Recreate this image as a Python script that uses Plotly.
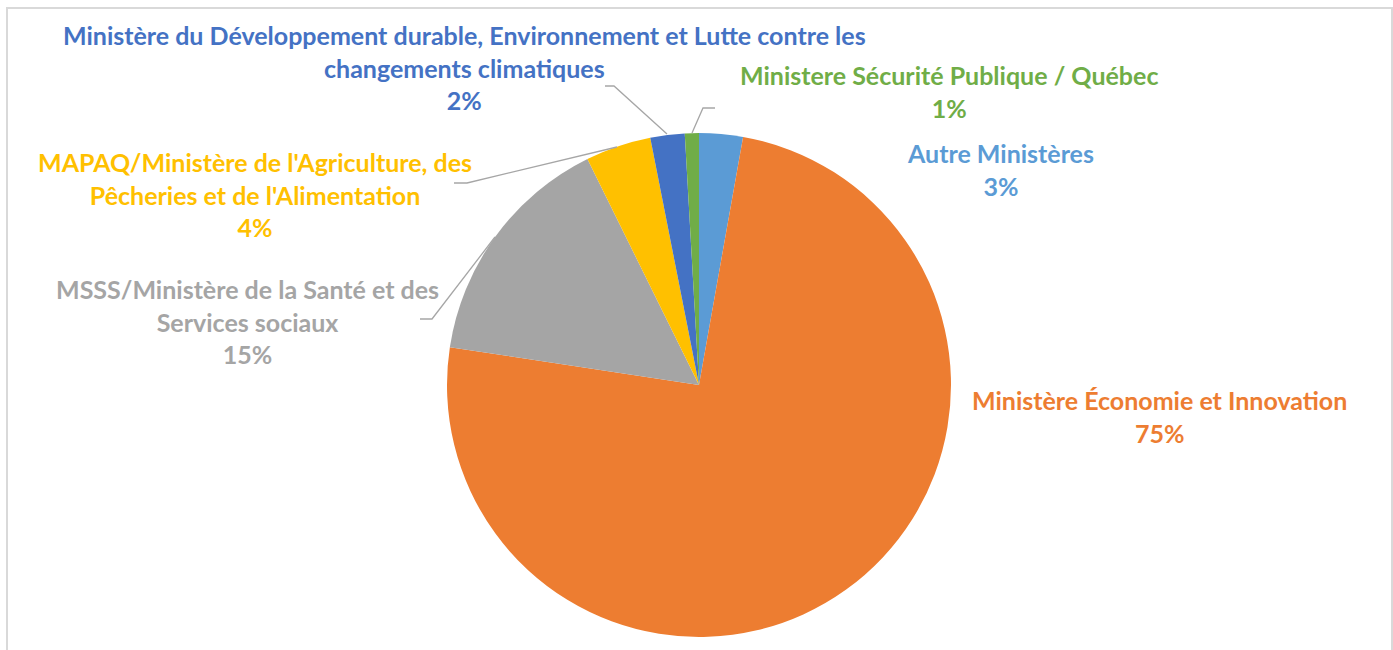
import plotly.graph_objects as go

# Slices in clockwise order starting at 12 o'clock
labels = [
    "Autre Ministères",
    "Ministère Économie et Innovation",
    "MSSS/Ministère de la Santé et des<br>Services sociaux",
    "MAPAQ/Ministère de l'Agriculture, des<br>Pêcheries et de l'Alimentation",
    "Ministère du Développement durable, Environnement et Lutte contre les<br>changements climatiques",
    "Ministere Sécurité Publique / Québec",
]
values = [2.8, 74.6, 15.3, 4.2, 2.2, 0.9]
colors = ["#5B9BD5", "#ED7D31", "#A5A5A5", "#FFC000", "#4472C4", "#70AD47"]

# label placement (pixels, centre of the text block) and leader lines
label_pos = [(1000, 170), (1159, 416), (247, 322), (255, 194), (464, 67), (949, 91)]
leaders = [
    None,
    None,
    [(420, 319), (432, 319), (495, 237)],
    [(454, 183), (467, 183), (617, 147)],
    [(605, 86), (614, 86), (667, 134)],
    [(715, 108), (703, 108), (692, 133)],
]

W, H = 1393, 650
FONT = "Lato"


def px(x, y):
    return x / W, 1 - y / H


fig = go.Figure(go.Pie(
    labels=labels,
    values=values,
    sort=False,
    direction="clockwise",
    rotation=0,
    marker=dict(colors=colors, line=dict(width=0)),
    textinfo="none",
    hoverinfo="label+percent",
    domain=dict(x=[447 / W, 951 / W], y=[1 - 637 / H, 1 - 133 / H]),
    showlegend=False,
))

total = sum(values)
for lab, v, c, pos in zip(labels, values, colors, label_pos):
    x, y = px(*pos)
    fig.add_annotation(
        x=x, y=y, xref="paper", yref="paper",
        xanchor="center", yanchor="middle",
        text=f"<b>{lab}<br>{round(v / total * 100)}%</b>",
        showarrow=False, align="center",
        font=dict(family=FONT, size=25, color=c),
    )

for pts in leaders:
    if pts is None:
        continue
    path = "M " + " L ".join(f"{px(*p)[0]},{px(*p)[1]}" for p in pts)
    fig.add_shape(type="path", path=path, xref="paper", yref="paper",
                  line=dict(color="#A6A6A6", width=1.3))

# chart frame
fig.add_shape(type="rect", xref="paper", yref="paper",
              x0=7 / W, x1=1392 / W, y0=-0.05, y1=1 - 8 / H,
              line=dict(color="#D9D9D9", width=2))

fig.update_layout(
    width=W, height=H,
    margin=dict(l=0, r=0, t=0, b=0),
    paper_bgcolor="white",
    font=dict(family=FONT),
)

fig.write_html("out.html", config={"displayModeBar": False},
               post_script="document.body.style.margin='0';")
